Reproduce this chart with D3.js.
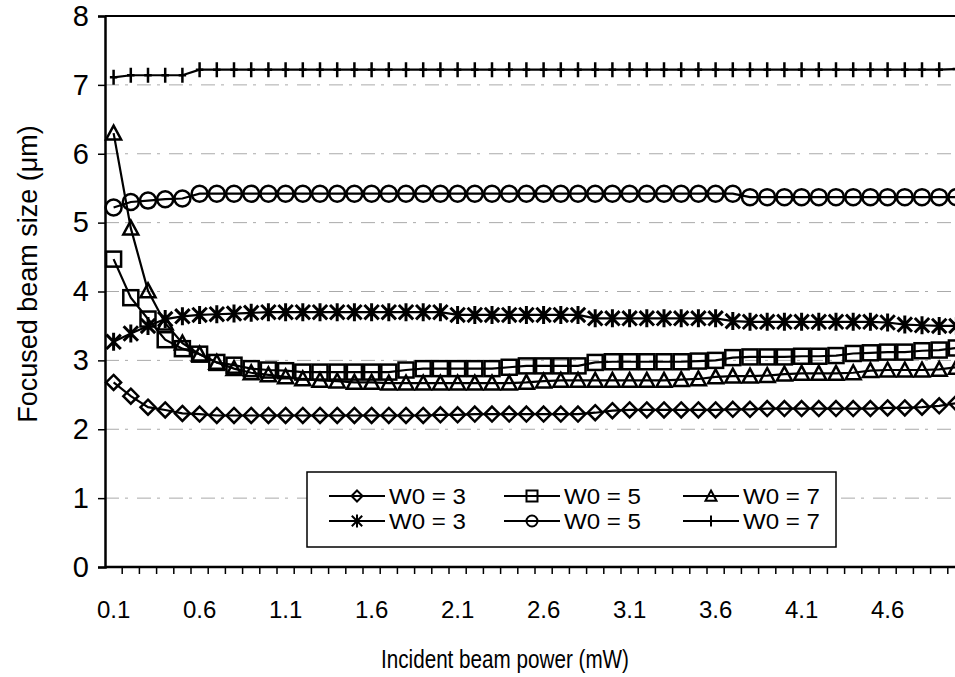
<!DOCTYPE html>
<html>
<head>
<meta charset="utf-8">
<script src="https://cdn.jsdelivr.net/npm/d3@7"></script>
<style>
  body { margin: 0; background: #fff; }
  text { font-family: "Liberation Sans", Arial, sans-serif; fill: #000; }
</style>
</head>
<body>
<svg id="chart" width="955" height="677"></svg>
<script>
// incident beam power categories (mW)
const power = ["0.1","0.2","0.3","0.4","0.5","0.6","0.7","0.8","0.9","1.0",
  "1.1","1.2","1.3","1.4","1.5","1.6","1.7","1.8","1.9","2.0",
  "2.1","2.2","2.3","2.4","2.5","2.6","2.7","2.8","2.9","3.0",
  "3.1","3.2","3.3","3.4","3.5","3.6","3.7","3.8","3.9","4.0",
  "4.1","4.2","4.3","4.4","4.5","4.6","4.7","4.8","4.9","5.0"];
const xTickLabels = ["0.1","0.6","1.1","1.6","2.1","2.6","3.1","3.6","4.1","4.6"];
const yTicks = [0,1,2,3,4,5,6,7,8];

const diamondW3 = [2.68,2.48,2.32,2.28,2.23,2.22,2.2,2.2,2.2,2.2,
  2.2,2.2,2.2,2.2,2.2,2.2,2.2,2.2,2.2,2.21,
  2.21,2.22,2.22,2.22,2.22,2.22,2.22,2.22,2.24,2.27,
  2.28,2.28,2.28,2.28,2.28,2.28,2.29,2.29,2.3,2.3,
  2.3,2.3,2.3,2.3,2.3,2.31,2.31,2.32,2.34,2.38];
const squareW5 = [4.47,3.91,3.6,3.3,3.17,3.09,2.97,2.93,2.88,2.86,
  2.85,2.83,2.83,2.83,2.83,2.83,2.83,2.86,2.88,2.88,
  2.88,2.88,2.88,2.9,2.92,2.92,2.92,2.92,2.97,2.98,
  2.98,2.98,2.98,2.98,2.99,3.0,3.04,3.05,3.05,3.05,
  3.06,3.06,3.07,3.1,3.11,3.12,3.12,3.14,3.15,3.18];
const triangleW7 = [6.3,4.92,4.01,3.54,3.25,3.09,2.97,2.88,2.82,2.79,
  2.76,2.73,2.71,2.7,2.68,2.68,2.67,2.67,2.67,2.67,
  2.67,2.67,2.67,2.67,2.68,2.7,2.71,2.71,2.71,2.71,
  2.71,2.71,2.71,2.72,2.73,2.76,2.77,2.77,2.78,2.8,
  2.81,2.81,2.81,2.82,2.85,2.86,2.86,2.86,2.87,2.9];
const starW3 = [3.27,3.39,3.5,3.6,3.64,3.66,3.67,3.68,3.69,3.7,
  3.7,3.7,3.7,3.7,3.7,3.7,3.7,3.7,3.7,3.7,
  3.66,3.66,3.66,3.66,3.66,3.66,3.66,3.66,3.61,3.61,
  3.61,3.61,3.61,3.61,3.61,3.61,3.57,3.56,3.56,3.56,
  3.56,3.56,3.56,3.56,3.56,3.55,3.52,3.51,3.5,3.5];
const circleW5 = [5.22,5.3,5.32,5.34,5.35,5.42,5.42,5.42,5.42,5.42,
  5.42,5.42,5.42,5.42,5.42,5.42,5.42,5.42,5.42,5.42,
  5.42,5.42,5.42,5.42,5.42,5.42,5.42,5.42,5.42,5.42,
  5.42,5.42,5.42,5.42,5.42,5.42,5.42,5.37,5.37,5.37,
  5.37,5.37,5.37,5.37,5.37,5.37,5.37,5.37,5.37,5.37];
const plusW7 = [7.11,7.14,7.14,7.14,7.14,7.22,7.22,7.22,7.22,7.22,
  7.22,7.22,7.22,7.22,7.22,7.22,7.22,7.22,7.22,7.22,
  7.22,7.22,7.22,7.22,7.22,7.22,7.22,7.22,7.22,7.22,
  7.22,7.22,7.22,7.22,7.22,7.22,7.22,7.22,7.22,7.22,
  7.22,7.22,7.22,7.22,7.22,7.22,7.22,7.22,7.22,7.23];

const series = [
  {label: "W0 = 3", marker: "diamond", values: diamondW3},
  {label: "W0 = 5", marker: "square", values: squareW5},
  {label: "W0 = 7", marker: "triangle", values: triangleW7},
  {label: "W0 = 3", marker: "star", values: starW3},
  {label: "W0 = 5", marker: "circle", values: circleW5},
  {label: "W0 = 7", marker: "plus", values: plusW7}
];

const plotLeft = 105, plotRight = 965, plotTop = 16, plotBottom = 567;
const svg = d3.select("#chart");

const x = d3.scaleBand().domain(power).range([plotLeft, plotRight]);
const xc = c => x(c) + x.bandwidth() / 2;
const y = d3.scaleLinear().domain([0, 8]).range([plotBottom, plotTop]);

// gridlines (faint, broken like the scan)
svg.append("g")
  .selectAll("line")
  .data(yTicks.filter(d => d > 0 && d < 8))
  .join("line")
  .attr("x1", plotLeft).attr("x2", plotRight)
  .attr("y1", d => y(d)).attr("y2", d => y(d))
  .attr("stroke", "#aaa")
  .attr("stroke-width", 1)
  .attr("stroke-dasharray", "14,6,3,9");

// top border
svg.append("line")
  .attr("x1", plotLeft).attr("x2", plotRight)
  .attr("y1", plotTop).attr("y2", plotTop)
  .attr("stroke", "#000").attr("stroke-width", 2);

// y axis
const yAxis = svg.append("g")
  .attr("transform", `translate(${plotLeft},0)`)
  .call(d3.axisLeft(y).tickValues(yTicks).tickSize(7).tickPadding(9).tickFormat(d3.format("d")));
yAxis.select(".domain").attr("stroke-width", 2.5);
yAxis.selectAll(".tick line").attr("stroke-width", 1.5);
yAxis.selectAll(".tick text").style("font-size", "29px").style("font-family", "Liberation Sans, Arial, sans-serif");

// x axis: baseline, ticks between categories, labels every 5th category
const xg = svg.append("g");
xg.append("line")
  .attr("x1", plotLeft).attr("x2", plotRight)
  .attr("y1", plotBottom).attr("y2", plotBottom)
  .attr("stroke", "#000").attr("stroke-width", 2.5);
xg.selectAll("line.tk")
  .data(power)
  .join("line")
  .attr("class", "tk")
  .attr("x1", d => x(d) + x.bandwidth()).attr("x2", d => x(d) + x.bandwidth())
  .attr("y1", plotBottom).attr("y2", plotBottom + 7)
  .attr("stroke", "#000").attr("stroke-width", 1.5);
xg.selectAll("text")
  .data(xTickLabels)
  .join("text")
  .attr("x", d => xc(d))
  .attr("y", 618)
  .attr("text-anchor", "middle")
  .style("font-size", "24px")
  .text(d => d);

// axis titles
svg.append("text")
  .attr("x", 505).attr("y", 668)
  .attr("text-anchor", "middle")
  .attr("textLength", 248)
  .attr("lengthAdjust", "spacingAndGlyphs")
  .style("font-size", "26px")
  .text("Incident beam power (mW)");
svg.append("text")
  .attr("transform", "translate(37,274) rotate(-90)")
  .attr("text-anchor", "middle")
  .style("font-size", "27px")
  .text("Focused beam size (\u03bcm)");

// marker drawing
function drawMarker(g, type, s, sw) {
  const h = s / 2;
  let el;
  if (type === "diamond") el = g.append("path").attr("d", `M0,${-h}L${h},0L0,${h}L${-h},0Z`);
  else if (type === "square") el = g.append("rect").attr("x", -h).attr("y", -h).attr("width", s).attr("height", s);
  else if (type === "triangle") el = g.append("path").attr("d", `M0,${-h}L${h},${h * 0.85}L${-h},${h * 0.85}Z`);
  else if (type === "circle") el = g.append("circle").attr("r", h);
  else if (type === "star") {
    const a = h * 0.8;
    el = g.append("path").attr("d", `M0,${-h}V${h}M${-a},${-a}L${a},${a}M${-a},${a}L${a},${-a}`);
  } else el = g.append("path").attr("d", `M0,${-h}V${h}M${-h * 0.5},0H${h * 0.5}`);
  el.attr("stroke", "#000").attr("stroke-width", sw).attr("fill", "none");
}

const markerSize = {diamond: 15, square: 15, triangle: 15, star: 18, circle: 16, plus: 15};
const line = d3.line().x((d, i) => xc(power[i])).y(d => y(d));
const plot = svg.append("g");
series.forEach(s => {
  plot.append("path")
    .datum(s.values)
    .attr("d", line)
    .attr("fill", "none")
    .attr("stroke", "#000")
    .attr("stroke-width", 2.2);
  plot.append("g").selectAll("g")
    .data(s.values)
    .join("g")
    .attr("transform", (d, i) => `translate(${xc(power[i])},${y(d)})`)
    .each(function () { drawMarker(d3.select(this), s.marker, markerSize[s.marker], s.marker === "star" ? 3 : 2.5); });
});

// legend
const lg = svg.append("g");
lg.append("rect")
  .attr("x", 307).attr("y", 472)
  .attr("width", 529).attr("height", 75)
  .attr("fill", "#fff").attr("stroke", "#000").attr("stroke-width", 1.5);
const colX = [329, 504, 683];
const rowY = [496, 521];
series.forEach((s, i) => {
  const cx = colX[i % 3], cy = rowY[Math.floor(i / 3)];
  const g = lg.append("g");
  g.append("line")
    .attr("x1", cx).attr("x2", cx + 56)
    .attr("y1", cy).attr("y2", cy)
    .attr("stroke", "#000").attr("stroke-width", 2);
  drawMarker(g.append("g").attr("transform", `translate(${cx + 28},${cy})`), s.marker, s.marker === "star" ? 13 : 11, 2);
  g.append("text")
    .attr("x", cx + 60).attr("y", cy + 8)
    .style("font-size", "22px")
    .attr("textLength", 77)
    .attr("lengthAdjust", "spacingAndGlyphs")
    .text(s.label);
});
</script>
</body>
</html>
